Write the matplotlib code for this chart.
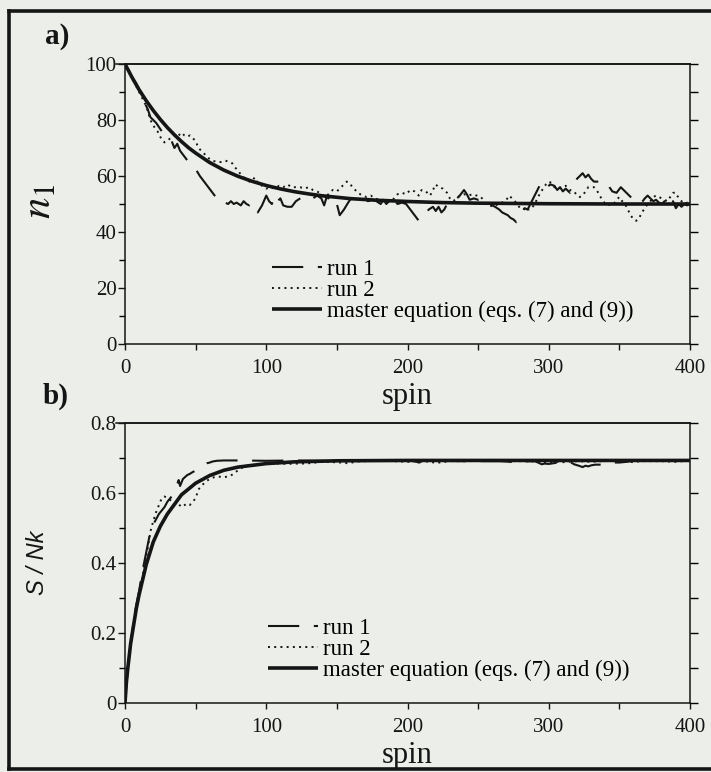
import numpy as np
import matplotlib
matplotlib.use("Agg")
import matplotlib.pyplot as plt
from matplotlib.lines import Line2D
from matplotlib.ticker import FuncFormatter

plt.rcParams['font.family'] = ['Liberation Serif', 'DejaVu Serif']
plt.rcParams['mathtext.fontset'] = 'stix'

# ---------------- data: panel a (n1 vs spin) ----------------
run1_a_t = [0, 4, 8, 12, 16, 18, 22, 26, 30, 33, 35, 37, 39, 42, 45, 48, 50, 53, 56, 59, 62, 65, 67, 69,
            71, 73, 75, 77, 79, 82, 84, 86, 88, 90, 92, 94, 97, 100, 102, 104, 106, 108, 110, 112, 115,
            118, 121, 124, 127, 130, 133, 136, 139, 141, 143, 145, 148, 150, 152, 155, 158, 160, 163, 166,
            169, 172, 175, 178, 181, 183, 185, 187, 189, 191, 193, 196, 199, 202, 205, 208, 210, 212, 215,
            218, 220, 222, 224, 226, 228, 231, 234, 237, 240, 242, 244, 247, 250, 253, 256, 258, 260, 262,
            265, 267, 269, 271, 273, 275, 277, 279, 281, 283, 285, 287, 289, 291, 293, 295, 297, 299, 301,
            304, 306, 308, 310, 312, 315, 318, 320, 322, 324, 326, 328, 330, 332, 334, 336, 338, 341, 343,
            345, 348, 351, 353, 355, 357, 359, 361, 363, 365, 368, 370, 372, 374, 376, 378, 380, 382, 384,
            386, 388, 390, 392, 394, 396, 398, 400]
run1_a_n = [100, 96, 93, 88, 84, 81, 79, 76, 74, 72.5, 70, 71.5, 69, 67, 65, 63.5, 62.5, 60, 58, 56, 54, 52, 51, 50,
            50.5, 50, 51, 50, 50.5, 49.5, 51, 50, 49.5, 50.5, 48.5, 47, 49.5, 53, 51, 50, 53, 51, 52, 49.5, 49,
            49, 51, 52, 53, 52.5, 52, 53, 52, 49.5, 53, 51, 52, 50, 46, 48, 50.5, 52, 52, 51.5,
            52, 51, 51.5, 51, 50, 51.5, 50, 51, 49, 51, 50, 50.5, 50, 48, 46, 44, 44.5, 46, 48,
            49, 47.5, 49, 47, 48, 50, 50, 51.5, 53, 55, 53.5, 51.5, 52, 51.5, 52, 51, 50.5, 49.5, 49,
            48, 47, 46.5, 46, 45, 44.5, 43.5, 46, 47, 48.5, 48, 50, 52, 54, 56, 58, 57, 56, 57,
            56.5, 55, 56, 54.5, 55.5, 54, 57, 59, 60, 61, 59.5, 60.5, 59, 58, 58, 58, 58, 58, 56,
            54.5, 54, 56, 55, 54, 53, 52, 51, 50.5, 50, 52, 53, 52, 51, 51.5, 50.5, 50, 51, 50,
            48.5, 51, 48.5, 50, 49, 50, 49.5, 50]

run2_a_t = [0, 3, 6, 9, 12, 15, 18, 20, 23, 26, 28, 30, 32, 34, 36, 38, 40, 42, 44, 46, 48, 50, 52, 54, 56, 58,
            60, 62, 65, 68, 71, 74, 76, 78, 80, 82, 84, 86, 88, 90, 92, 94, 96, 98, 100, 103, 106, 109, 112,
            115, 118, 121, 124, 127, 130, 133, 136, 139, 142, 145, 147, 150, 153, 155, 157, 159, 161, 163,
            165, 168, 171, 174, 177, 180, 183, 186, 189, 191, 193, 196, 199, 202, 205, 208, 210, 213, 216,
            218, 220, 222, 225, 228, 230, 232, 234, 237, 240, 243, 246, 249, 252, 255, 258, 261, 264, 267,
            270, 272, 274, 276, 278, 280, 282, 284, 286, 288, 290, 292, 294, 296, 298, 300, 302, 304, 306,
            309, 312, 315, 318, 320, 322, 324, 326, 328, 330, 332, 334, 336, 338, 340, 342, 344, 346, 348,
            350, 352, 354, 356, 358, 360, 362, 364, 366, 368, 370, 372, 374, 376, 378, 380, 382, 384, 386,
            388, 390, 392, 394, 396, 398, 400]
run2_a_n = [100, 97, 94, 91, 88, 85, 80, 78, 76, 73, 72, 72.5, 73.5, 74, 75, 74.5, 75.5, 74.5, 74, 74.5, 73.5,
            72.5, 70, 69, 68, 67, 66, 65.5, 65, 65, 65.5, 65, 64.5, 63, 62, 60.5, 59.5, 59, 58, 58.5, 59.5,
            57.5, 57, 56, 55.5, 56, 55.5, 56.5, 56, 57, 56, 56, 56, 55.5, 56, 55, 54.5, 53.5, 52.5, 54, 55,
            54.5, 56, 57, 58, 57.5, 56, 55, 54, 53, 52.5, 53, 52, 51.5, 51, 51.5, 51, 52.5, 53.5, 54,
            53.5, 55, 54.5, 53, 55, 54.5, 53, 55, 57, 56, 55.5, 54, 52, 51, 51.5, 53, 53.5, 53, 53.5, 53,
            52.5, 50.5, 49.5, 49, 50, 50.5, 51.5, 53, 52, 51, 49.5, 48.5, 48, 49, 48, 48.5, 50, 52, 54,
            55.5, 57, 58, 57.5, 56, 55.5, 56, 56.5, 55, 54.5, 53, 52.5, 53, 54.5, 56, 56, 56, 55, 53,
            51.5, 50, 49.5, 50, 50, 51.5, 52.5, 51, 50, 48, 46, 44.5, 44, 45, 47, 48.5, 50, 51, 52.5,
            53, 52.5, 52, 51.5, 51, 52.5, 54, 54, 52, 51, 50, 50.5, 50]

master_a_t = [0, 5, 10, 15, 20, 25, 30, 35, 40, 45, 50, 60, 70, 80, 90, 100, 110, 120, 130, 140, 150,
              160, 180, 200, 225, 250, 300, 350, 400]
master_a_n = [100, 95.2, 90.8, 86.9, 83.4, 80.2, 77.3, 74.7, 72.3, 70.1, 68.2, 64.8, 62.1, 59.9, 58.1,
              56.6, 55.4, 54.4, 53.6, 52.9, 52.4, 51.9, 51.3, 50.9, 50.5, 50.3, 50.1, 50.0, 50.0]

# ---------------- data: panel b (S/Nk vs spin) ----------------
run1_b_t = [0, 2, 4, 6, 8, 10, 12, 14, 16, 18, 20, 22, 24, 26, 28, 30, 32, 34, 36, 38, 39, 41, 44, 46, 48,
            50, 52, 54, 56, 58, 60, 62, 65, 70, 80, 100, 120, 140, 150, 152, 155, 160, 200, 205, 208, 210,
            212, 216, 240, 265, 270, 275, 277, 280, 290, 293, 295, 297, 300, 305, 310, 315, 318, 322, 324,
            326, 328, 330, 333, 338, 341, 345, 350, 355, 360, 380, 400]
run1_b_s = [0, 0.10, 0.17, 0.23, 0.28, 0.32, 0.37, 0.41, 0.45, 0.49, 0.51, 0.525, 0.54, 0.55, 0.56, 0.575,
            0.585, 0.595, 0.615, 0.637, 0.62, 0.64, 0.651, 0.655, 0.66, 0.664, 0.668, 0.675, 0.68, 0.685,
            0.687, 0.69, 0.692, 0.693, 0.693, 0.692, 0.693, 0.692, 0.691, 0.688, 0.691, 0.692, 0.692, 0.691,
            0.687, 0.688, 0.69, 0.692, 0.691, 0.691, 0.690, 0.688, 0.687, 0.690, 0.691, 0.686, 0.682, 0.684,
            0.683, 0.686, 0.688, 0.689, 0.682, 0.677, 0.674, 0.678, 0.676, 0.679, 0.681, 0.681, 0.681, 0.687,
            0.687, 0.689, 0.692, 0.692, 0.693]

run2_b_t = [0, 2, 4, 6, 8, 10, 12, 14, 16, 18, 20, 22, 24, 26, 28, 30, 32, 34, 36, 38, 40, 42, 44, 46, 48,
            50, 52, 54, 56, 58, 60, 63, 66, 70, 74, 77, 80, 84, 88, 92, 96, 100, 105, 110, 115, 120, 125,
            130, 135, 140, 145, 150, 155, 158, 162, 165, 170, 180, 190, 200, 205, 210, 215, 220, 225, 230,
            240, 260, 280, 290, 300, 305, 310, 320, 330, 340, 355, 360, 365, 380, 390, 400]
run2_b_s = [0, 0.10, 0.17, 0.22, 0.27, 0.31, 0.35, 0.40, 0.44, 0.49, 0.52, 0.545, 0.565, 0.585, 0.59, 0.585,
            0.58, 0.575, 0.565, 0.568, 0.56, 0.565, 0.57, 0.566, 0.575, 0.585, 0.61, 0.62, 0.628, 0.635,
            0.64, 0.645, 0.647, 0.645, 0.648, 0.655, 0.665, 0.675, 0.68, 0.677, 0.683, 0.686, 0.685, 0.684,
            0.683, 0.684, 0.684, 0.685, 0.687, 0.690, 0.688, 0.688, 0.686, 0.685, 0.688, 0.690, 0.691, 0.692,
            0.691, 0.689, 0.690, 0.689, 0.690, 0.686, 0.688, 0.691, 0.691, 0.692, 0.691, 0.690, 0.687, 0.689,
            0.688, 0.691, 0.689, 0.692, 0.690, 0.688, 0.691, 0.691, 0.689, 0.693]

master_b_t = [0, 1, 2, 4, 6, 8, 10, 15, 20, 25, 30, 40, 50, 60, 70, 80, 100, 120, 150, 200, 300, 400]
master_b_s = [0, 0.06, 0.10, 0.17, 0.22, 0.27, 0.31, 0.395, 0.46, 0.505, 0.54, 0.595, 0.628, 0.65, 0.665,
              0.674, 0.684, 0.689, 0.692, 0.693, 0.693, 0.693]

labels = ["run 1", "run 2", "master equation (eqs. (7) and (9))"]
panel_letters = ["a)", "b)"]

# ---------------- figure ----------------
W, H = 711, 772
BG = '#eceeea'
fig = plt.figure(figsize=(W / 100, H / 100), dpi=100, facecolor=BG)

def px_axes(left, top, right, bottom):
    return fig.add_axes([left / W, 1 - bottom / H, (right - left) / W, (bottom - top) / H])

ax_a = px_axes(125, 64, 690, 344)
ax_b = px_axes(125, 423, 690, 703)

INK = '#151515'
dash1 = (0, (15, 7))
dot2 = (0, (1, 2.2))

def style_axes(ax, ymax, major, minor, fmt):
    ax.set_facecolor(BG)
    ax.set_xlim(0, 400)
    ax.set_ylim(0, ymax)
    for s in ax.spines.values():
        s.set_linewidth(1.1)
        s.set_color(INK)
    ax.set_xticks(np.arange(0, 401, 100))
    ax.set_xticks(np.arange(50, 400, 100), minor=True)
    ax.set_yticks(np.arange(0, ymax + 1e-9, major))
    ax.set_yticks(np.arange(minor, ymax, major), minor=True)
    ax.yaxis.set_major_formatter(FuncFormatter(fmt))
    ax.tick_params(axis='y', which='major', direction='out', length=5, width=1, pad=1,
                   labelsize=15, colors=INK, right=False)
    ax.tick_params(axis='y', which='minor', direction='out', length=4, width=1, right=False)
    ax.tick_params(axis='x', which='both', direction='out', length=4, width=1, pad=7,
                   labelsize=15, colors=INK, top=False)
    # right side ticks at every minor step
    tw = ax.twinx()
    tw.set_ylim(0, ymax)
    tw.set_yticks(np.arange(0, ymax + 1e-9, minor))
    tw.tick_params(axis='y', direction='out', length=6, width=1, labelright=False)
    for s in tw.spines.values():
        s.set_visible(False)
    ax.set_xlabel('spin', fontsize=22, labelpad=3, color=INK)
    # top rule runs slightly past the left spine, as in the printed figure
    ax.add_line(Line2D([-0.016, 1.0], [1, 1], transform=ax.transAxes, clip_on=False,
                       color=INK, lw=1.1))

style_axes(ax_a, 100, 20, 10, lambda v, p: f'{v:.0f}')
style_axes(ax_b, 0.8, 0.2, 0.1, lambda v, p: '0' if abs(v) < 1e-9 else f'{v:.1f}')

for ax, (r1t, r1v, r2t, r2v, mt, mv) in [
        (ax_a, (run1_a_t, run1_a_n, run2_a_t, run2_a_n, master_a_t, master_a_n)),
        (ax_b, (run1_b_t, run1_b_s, run2_b_t, run2_b_s, master_b_t, master_b_s))]:
    ax.plot(r1t, r1v, color=INK, lw=1.5, ls=dash1, label=labels[0], zorder=3)
    ax.plot(r2t, r2v, color=INK, lw=1.4, ls=dot2, label=labels[1], zorder=3)
    ax.plot(mt, mv, color=INK, lw=2.6, ls='-', label=labels[2], zorder=4, solid_capstyle='butt')

leg_kw = dict(frameon=False, fontsize=16.5, handlelength=2.2, handletextpad=0.22,
              labelspacing=0.0, borderpad=0, borderaxespad=0, loc='upper left')
ax_a.legend(bbox_to_anchor=(0.26, 0.305), **leg_kw)
ax_b.legend(bbox_to_anchor=(0.253, 0.305), **leg_kw)

ax_a.set_ylabel('$n_1$', fontsize=31, color=INK)
ax_a.yaxis.set_label_coords(-0.117, 0.51)
ax_b.set_ylabel('S / Nk', fontsize=17, fontstyle='italic', family=['Liberation Sans', 'DejaVu Sans'],
                color=INK)
ax_b.yaxis.set_label_coords(-0.134, 0.5)

fig.text(45 / W, 1 - 37 / H, panel_letters[0], fontsize=21, fontweight='bold', va='center', ha='left', color=INK)
fig.text(43 / W, 1 - 396 / H, panel_letters[1], fontsize=21, fontweight='bold', va='center', ha='left', color=INK)

# outer frame of the printed figure (left, top, bottom rules)
for xs, ys in [([9, 9], [11, 769]), ([9, 711], [11, 11]), ([9, 711], [769, 769])]:
    fig.add_artist(Line2D([x / W for x in xs], [1 - y / H for y in ys], transform=fig.transFigure,
                          lw=2.6, color=INK))

fig.savefig('out.png', dpi=100, facecolor=BG)
